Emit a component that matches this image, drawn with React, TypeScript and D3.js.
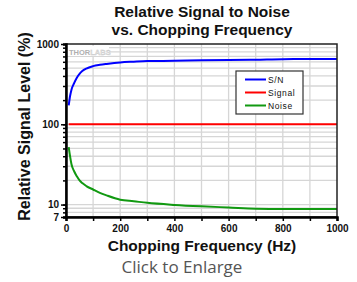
import { useEffect, useRef } from 'react';
import * as d3 from 'd3';

// chopping frequency (Hz) sample points
const freqs = [10, 15, 20, 30, 40, 50, 60, 75, 100, 125, 150, 200, 250, 300, 400, 500, 600, 700, 800, 900, 1000];
const snValues = [172, 225, 268, 325, 380, 425, 460, 495, 530, 550, 565, 590, 602, 612, 618, 628, 632, 638, 648, 650, 650];
const signalValues = [100, 100, 100, 100, 100, 100, 100, 100, 100, 100, 100, 100, 100, 100, 100, 100, 100, 100, 100, 100, 100];
const noiseValues = [52, 40, 32, 26, 22.5, 20, 18.5, 17, 15.4, 14, 13, 11.5, 11, 10.5, 9.9, 9.5, 9.2, 8.9, 8.8, 8.8, 8.8];

const seriesNames = ['S/N', 'Signal', 'Noise'];
const seriesColors = ['#0000ff', '#ff0000', '#119911'];

const xTicks = [0, 100, 200, 300, 400, 500, 600, 700, 800, 900, 1000];
const xTickLabels = [0, 200, 400, 600, 800, 1000];
const yTickLabels = [7, 10, 100, 1000];

export default function App() {
	const svgRef = useRef<SVGSVGElement | null>(null);

	useEffect(() => {
		const svg = d3.select(svgRef.current);
		svg.selectAll('*').remove();

		const width = 357;
		const height = 282;
		const left = 66, right = 337, top = 44, bottom = 217;
		const font = '"Liberation Sans", Arial, sans-serif';

		svg.attr('width', width).attr('height', height);
		svg.append('rect').attr('width', width).attr('height', height).attr('fill', '#fff');

		const x = d3.scaleLinear().domain([0, 1000]).range([left, right]);
		const y = d3.scaleLog().domain([7, 1000]).range([bottom, top]);

		// log minor values inside the domain
		const minor: number[] = [];
		for (const dec of [1, 10, 100]) {
			for (let k = 1; k <= 9; k++) {
				const v = dec * k;
				if (v >= 7 && v <= 1000) minor.push(v);
			}
		}

		// gridlines
		const grid = svg.append('g');
		grid.selectAll('.hg').data(minor).join('line')
			.attr('x1', left).attr('x2', right)
			.attr('y1', (d) => y(d)).attr('y2', (d) => y(d))
			.attr('stroke', '#d6d6d6').attr('stroke-width', 1.3);
		grid.selectAll('.vg').data(xTicks.slice(1, -1)).join('line')
			.attr('x1', (d) => x(d)).attr('x2', (d) => x(d))
			.attr('y1', top).attr('y2', bottom)
			.attr('stroke', '#d6d6d6').attr('stroke-width', 1.3);

		// logo
		svg.append('rect').attr('x', 67).attr('y', 46).attr('width', 42).attr('height', 10).attr('fill', '#fff');
		const logo = svg.append('text').attr('x', 69).attr('y', 54.5)
			.attr('font-family', font).attr('font-weight', 'bold').attr('font-size', 7.5);
		logo.append('tspan').attr('fill', '#b0b0b0').text('THOR');
		logo.append('tspan').attr('fill', '#e2e2e2').attr('stroke', '#c4c4c4').attr('stroke-width', 0.3).text('LABS');

		// lines
		const series = [snValues, signalValues, noiseValues];
		const line = d3.line<number>()
			.x((_, i) => x(freqs[i]))
			.y((d) => y(d))
			.curve(d3.curveMonotoneX);
		series.forEach((vals, i) => {
			svg.append('path').attr('d', line(vals) ?? '')
				.attr('fill', 'none').attr('stroke', seriesColors[i]).attr('stroke-width', 2);
		});

		// frame
		svg.append('rect').attr('x', left).attr('y', top).attr('width', right - left).attr('height', bottom - top)
			.attr('fill', 'none').attr('stroke', '#222').attr('stroke-width', 1.5);

		// axes
		const yAxis = svg.append('g').attr('transform', `translate(${left},0)`)
			.call(d3.axisLeft(y).tickValues(minor).tickSize(3).tickFormat(() => ''));
		yAxis.select('.domain').attr('stroke-width', 2.5).attr('stroke', '#000');
		yAxis.selectAll('line').attr('stroke-width', 1.5).attr('stroke', '#000');

		const yLabels = svg.append('g').attr('transform', `translate(${left},0)`)
			.call(d3.axisLeft(y).tickValues(yTickLabels).tickSize(5).tickPadding(2).tickFormat((d) => String(d)));
		yLabels.select('.domain').remove();
		yLabels.selectAll('line').attr('stroke-width', 1.5).attr('stroke', '#000');
		yLabels.selectAll('text').attr('font-family', font).attr('font-weight', 'bold').attr('font-size', 10).attr('fill', '#111');

		const xAxis = svg.append('g').attr('transform', `translate(0,${bottom})`)
			.call(d3.axisBottom(x).tickValues(xTicks).tickSize(4).tickFormat(() => ''));
		xAxis.select('.domain').attr('stroke-width', 2.5).attr('stroke', '#000');
		xAxis.selectAll('line').attr('stroke-width', 1.5).attr('stroke', '#000');

		const xLabels = svg.append('g').attr('transform', `translate(0,${bottom})`)
			.call(d3.axisBottom(x).tickValues(xTickLabels).tickSize(0).tickPadding(8).tickFormat((d) => String(d)));
		xLabels.select('.domain').remove();
		xLabels.selectAll('text').attr('font-family', font).attr('font-weight', 'bold').attr('font-size', 10).attr('fill', '#111');

		// legend
		const legend = svg.append('g').attr('transform', 'translate(236,71)');
		legend.append('rect').attr('width', 67).attr('height', 43)
			.attr('fill', '#fff').attr('stroke', '#333').attr('stroke-width', 1.2);
		seriesNames.forEach((name, i) => {
			const row = legend.append('g').attr('transform', `translate(0,${8.5 + i * 13})`);
			row.append('line').attr('x1', 9).attr('x2', 30).attr('stroke', seriesColors[i]).attr('stroke-width', 2);
			row.append('text').attr('x', 32).attr('y', 3).attr('font-family', font)
				.attr('font-size', 8.5).attr('letter-spacing', 0.6).attr('fill', '#111').text(name);
		});

		// titles
		const title = svg.append('text').attr('text-anchor', 'middle').attr('font-family', font)
			.attr('font-weight', 'bold').attr('font-size', 15.5).attr('fill', '#111');
		title.append('tspan').attr('x', 202).attr('y', 17).text('Relative Signal to Noise');
		title.append('tspan').attr('x', 202).attr('y', 34.5).text('vs. Chopping Frequency');

		svg.append('text').attr('transform', 'translate(30,126.5) rotate(-90)')
			.attr('text-anchor', 'middle').attr('font-family', font).attr('font-weight', 'bold')
			.attr('font-size', 16).attr('fill', '#111').text('Relative Signal Level (%)');

		svg.append('text').attr('x', 202).attr('y', 250.5)
			.attr('text-anchor', 'middle').attr('font-family', font).attr('font-weight', 'bold')
			.attr('font-size', 15.5).attr('fill', '#111').text('Chopping Frequency (Hz)');

		svg.append('text').attr('x', 182).attr('y', 272.5)
			.attr('text-anchor', 'middle').attr('font-family', '"Open Sans", sans-serif')
			.attr('font-size', 17).attr('fill', '#555').text('Click to Enlarge');

		return () => {
			svg.selectAll('*').remove();
		};
	}, []);

	return (
		<div style={{ position: 'absolute', left: 0, top: 0 }}>
			<svg ref={svgRef} style={{ display: 'block' }} />
		</div>
	);
}
